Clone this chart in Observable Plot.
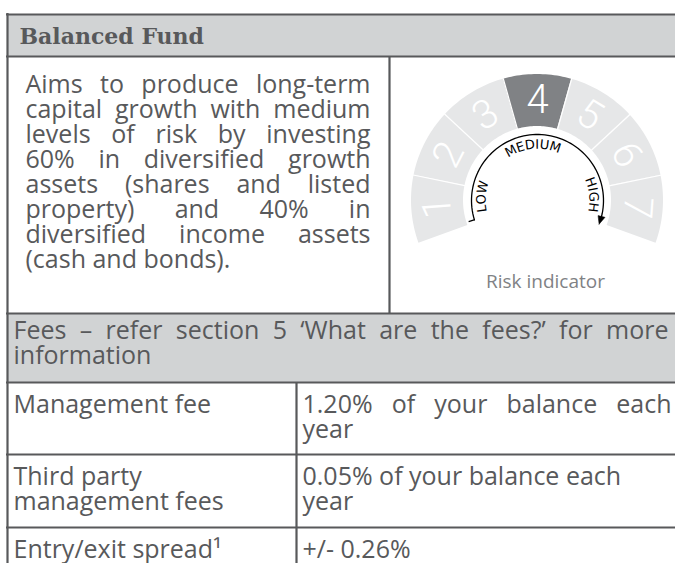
<!DOCTYPE html>
<html><head><meta charset="utf-8">
<script src="https://cdn.jsdelivr.net/npm/d3@7"></script>
<script src="https://cdn.jsdelivr.net/npm/@observablehq/plot@0.6"></script>
<style>
html,body{margin:0;padding:0;background:#fff;}
#chart svg{display:block;}
</style>
</head><body><div id="chart"></div>
<script>
// ---------------- data ----------------
const fundTitle = "Balanced Fund";
const descriptionLines = [
  "Aims to produce long-term",
  "capital growth with medium",
  "levels of risk by investing",
  "60% in diversified growth",
  "assets (shares and listed",
  "property) and 40% in",
  "diversified income assets",
  "(cash and bonds)."
];
const riskLevels = [1, 2, 3, 4, 5, 6, 7];
const fundRiskLevel = 4;
const riskScaleLabels = ["LOW", "MEDIUM", "HIGH"];
const riskScaleLabelAngles = [-86, -5, 84];
const riskCaption = "Risk indicator";
const feesHeaderLines = ["Fees – refer section 5 ‘What are the fees?’ for more", "information"];
const feeNames = [["Management fee"], ["Third party", "management fees"], ["Entry/exit spread¹"]];
const feeValues = [["1.20% of your balance each", "year"], ["0.05% of your balance each", "year"], ["+/- 0.26%"]];
const feeValueJustifyFirst = [true, false, false];

// ---------------- layout (chart units = pixels) ----------------
const W = 675, H = 563;
const textColor = "#58595b", borderColor = "#58595b", bandColor = "#d1d3d4";
const bodyFont = "Open Sans", bodySize = 25;
const rowTop = {head: 14, desc: 56, feesHead: 313, fee: [382, 454, 527]};
const xLeft = 7, xDivTop = 389, xDivFees = 296;
const g = {cx: 537, cy: 200, rIn: 74, rOut: 126, start: -109.8, end: 109.8, rNum: 100, rArc: 66, rLab: 56};

const ctx = document.createElement("canvas").getContext("2d");
const tw = (s, font) => { ctx.font = font; return ctx.measureText(s).width; };
const bodyCss = `${bodySize}px "${bodyFont}"`;

function lineItems(str, x0, x1, y, justify) {
  const words = str.split(" ");
  if (!justify || words.length < 2) return [{x: x0, y, text: str}];
  const ws = words.map(w => tw(w, bodyCss));
  const gap = (x1 - x0 - d3.sum(ws)) / (words.length - 1);
  let x = x0;
  return words.map((w, i) => { const it = {x, y, text: w}; x += ws[i] + gap; return it; });
}

const bodyItems = [];
descriptionLines.forEach((l, i) => bodyItems.push(...lineItems(l, 25, 370, 92 + i * 25, i < descriptionLines.length - 1)));
feesHeaderLines.forEach((l, i) => bodyItems.push(...lineItems(l, 13, 668, 338 + i * 25, i === 0)));
feeNames.forEach((lines, r) => lines.forEach((l, i) => bodyItems.push(...lineItems(l, 13, 290, rowTop.fee[r] + 30 + i * 25, false))));
feeValues.forEach((lines, r) => lines.forEach((l, i) => bodyItems.push(...lineItems(l, 302, 671, rowTop.fee[r] + 30 + i * 25, i === 0 && feeValueJustifyFirst[r]))));

// table structure
const bands = [
  {x1: xLeft, x2: W, y1: rowTop.head, y2: rowTop.desc},
  {x1: xLeft, x2: W, y1: rowTop.feesHead, y2: rowTop.fee[0]}
];
const hLines = [rowTop.head, rowTop.desc, rowTop.feesHead, ...rowTop.fee].map(y => ({y, x1: xLeft - 1, x2: W}));
const vLines = [
  {x: xLeft, y1: rowTop.head - 1, y2: H},
  {x: xDivTop, y1: rowTop.desc, y2: rowTop.feesHead},
  {x: xDivFees, y1: rowTop.fee[0], y2: H}
];

// gauge geometry
const rad = a => a * Math.PI / 180;
const gx = (r, a) => g.cx + r * Math.sin(rad(a));
const gy = (r, a) => g.cy - r * Math.cos(rad(a));
const step = (g.end - g.start) / riskLevels.length;
const segPts = riskLevels.flatMap((lv, i) => d3.range(0, 25).map(j => ({level: lv, a: g.start + step * (i + j / 24)})));
const boundaries = riskLevels.slice(1).map((lv, i) => g.start + step * (i + 1));
const numbers = riskLevels.map((lv, i) => ({level: lv, a: g.start + step * (i + 0.5)}));
const arcStart = -107, arcEnd = 104, arrowTip = 111;
const arcPts = d3.range(0, 81).map(j => ({a: arcStart + (arcEnd - arcStart) * j / 80}));
const arrowPts = [{a: arrowTip, r: g.rArc}, {a: arcEnd, r: g.rArc + 3.6}, {a: arcEnd, r: g.rArc - 3.6}, {a: arrowTip, r: g.rArc}];
const labSize = 13;
const labFont = `${labSize}px "DejaVu Sans"`, labSpacing = 0.6;
const labelChars = riskScaleLabels.flatMap((lab, k) => {
  const chars = [...lab];
  const ws = chars.map(c => tw(c, labFont) + labSpacing);
  const total = d3.sum(ws) - labSpacing;
  let a = rad(riskScaleLabelAngles[k]) - total / g.rLab / 2;
  return chars.map((c, i) => {
    const am = a + (ws[i] - labSpacing) / 2 / g.rLab;
    a += ws[i] / g.rLab;
    return {c, a: am * 180 / Math.PI};
  });
});

const chart = Plot.plot({
  width: W, height: H, margin: 0,
  x: {domain: [0, W], range: [0, W], axis: null},
  y: {domain: [0, H], range: [0, H], axis: null},
  style: {background: "white"},
  marks: [
    Plot.rect(bands, {x1: "x1", x2: "x2", y1: "y1", y2: "y2", fill: bandColor}),
    // gauge segments
    Plot.area(segPts.filter(d => d.level !== fundRiskLevel), {
      x1: d => gx(g.rIn, d.a), y1: d => gy(g.rIn, d.a), x2: d => gx(g.rOut, d.a), y2: d => gy(g.rOut, d.a),
      z: "level", fill: "#e6e7e8"
    }),
    Plot.area(segPts.filter(d => d.level === fundRiskLevel), {
      x1: d => gx(g.rIn, d.a), y1: d => gy(g.rIn, d.a), x2: d => gx(g.rOut, d.a), y2: d => gy(g.rOut, d.a),
      z: "level", fill: "#808285"
    }),
    Plot.link(boundaries, {x1: a => gx(g.rIn - 1, a), y1: a => gy(g.rIn - 1, a), x2: a => gx(g.rOut + 1, a), y2: a => gy(g.rOut + 1, a), stroke: "white", strokeWidth: 1.2}),
    Plot.text(numbers, {x: d => gx(g.rNum, d.a), y: d => gy(g.rNum, d.a), text: d => String(d.level), rotate: d => d.a,
      fill: "white", fontSize: 40, fontWeight: 300, fontFamily: "Roboto", textAnchor: "middle"}),
    // risk arc with arrow
    Plot.line(arcPts, {x: d => gx(g.rArc, d.a), y: d => gy(g.rArc, d.a), stroke: "black", strokeWidth: 1.3}),
    Plot.line(arrowPts, {x: d => gx(d.r, d.a), y: d => gy(d.r, d.a), fill: "black", stroke: "black", strokeWidth: 0.5}),
    Plot.link([arcStart], {x1: a => gx(g.rArc - 0.5, a), y1: a => gy(g.rArc - 0.5, a), x2: a => gx(g.rArc + 6, a), y2: a => gy(g.rArc + 6, a), stroke: "black", strokeWidth: 1.3}),
    Plot.text(labelChars, {x: d => gx(g.rLab, d.a), y: d => gy(g.rLab, d.a), text: "c", rotate: "a",
      fill: "black", fontSize: labSize, fontFamily: "DejaVu Sans", textAnchor: "middle"}),
    Plot.text([riskCaption], {x: () => 545, y: () => 287, text: d => d, textAnchor: "middle", lineAnchor: "bottom",
      fill: "#808285", fontSize: 19, fontFamily: bodyFont}),
    // borders
    Plot.ruleY(hLines, {y: "y", x1: "x1", x2: "x2", stroke: borderColor, strokeWidth: 2.2}),
    Plot.ruleX(vLines, {x: "x", y1: "y1", y2: "y2", stroke: borderColor, strokeWidth: 2.2}),
    // texts
    Plot.text([fundTitle], {x: () => 19, y: () => 43, text: d => d, textAnchor: "start", lineAnchor: "bottom",
      fill: textColor, fontSize: 22, fontWeight: "bold", fontFamily: "DejaVu Serif"}),
    Plot.text(bodyItems, {x: "x", y: "y", text: "text", textAnchor: "start", lineAnchor: "bottom",
      fill: textColor, fontSize: bodySize, fontFamily: bodyFont})
  ]
});
document.getElementById("chart").append(chart);
</script>
</body></html>
